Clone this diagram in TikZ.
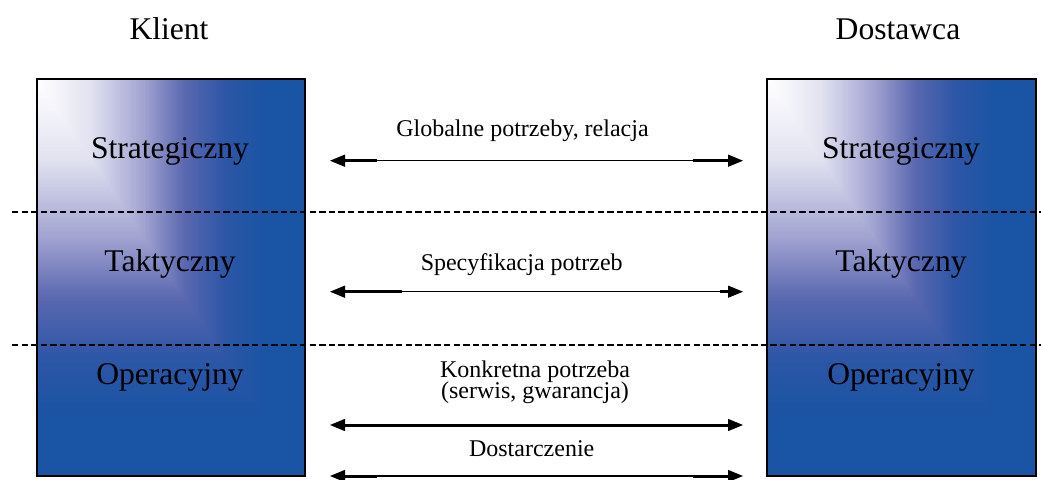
\documentclass[tikz,border=0pt]{standalone}
\usepackage{fontspec}
\setmainfont{Liberation Serif}
\usetikzlibrary{arrows.meta}

\definecolor{jasny}{HTML}{E2E2F1}
\definecolor{lawenda}{HTML}{A0A2D0}
\definecolor{sredni}{HTML}{5A68B0}
\definecolor{ciemny}{HTML}{2D56A6}
\definecolor{granat}{HTML}{1A54A4}

% srodkowe 50bp cieniowania trafia na prostokat
\pgfdeclarehorizontalshading{poziomo}{100bp}{color(0bp)=(white); color(25bp)=(white); color(35bp)=(jasny); color(45bp)=(lawenda); color(52.5bp)=(sredni); color(60bp)=(ciemny); color(67.5bp)=(granat); color(100bp)=(granat)}
\pgfdeclareverticalshading{pionowo}{100bp}{color(0bp)=(granat); color(32.5bp)=(granat); color(40bp)=(ciemny); color(47.5bp)=(sredni); color(55bp)=(lawenda); color(65bp)=(jasny); color(75bp)=(white); color(100bp)=(white)}

\begin{document}
\begin{tikzpicture}[x=0.5pt,y=0.5pt,
  tytul/.style={font=\fontsize{15.8}{19}\selectfont, anchor=base},
  opis/.style={font=\fontsize{12}{14}\selectfont, anchor=base},
  dwustr/.style={{Triangle[length=7.5pt,width=6pt]}-{Triangle[length=7.5pt,width=6pt]}, line width=0.7pt},
  gruba/.style={line width=1.5pt}]
\useasboundingbox (0,0) rectangle (1041,479);

% kolumny
\foreach \bx in {36.5,767}{
\shade[shading=poziomo] (\bx,2.7) rectangle (\bx+268.5,399.7);
\begin{scope}
\clip (\bx,399.7) -- (\bx,2.7) -- (\bx+268.5,2.7) -- cycle;
\shade[shading=pionowo] (\bx,2.7) rectangle (\bx+268.5,399.7);
\end{scope}
\draw[line width=1pt] (\bx,2.7) rectangle (\bx+268.5,399.7);
}

\node[tytul] (klient) at (169,440) {Klient};
\node[tytul] (dostawca) at (898,440) {Dostawca};

\foreach \n/\cx in {k/170,d/901}{
\node[tytul] (\n-strat) at (\cx,321) {Strategiczny};
\node[tytul] (\n-takt) at (\cx,208) {Taktyczny};
\node[tytul] (\n-oper) at (\cx,94.7) {Operacyjny};
}

\foreach \yy in {267,134.5}
\draw[dash pattern=on 3.2pt off 1.6pt, line width=1pt] (12,\yy) -- (1041,\yy);

% strzalki
\foreach \i/\yy in {1/318.3,2/187.3,3/54,4/3}{
\coordinate (l\i) at (330,\yy);
\coordinate (p\i) at (743,\yy);
\draw[dwustr] (l\i) -- (p\i);
}
\foreach \i/\a/\b in {1/47/50,2/72/23,3/207/207,4/47/50}{
\draw[gruba] ([xshift=5pt]l\i) -- ([xshift=\a*0.5pt]l\i);
\draw[gruba] ([xshift=-5pt]p\i) -- ([xshift=-\b*0.5pt]p\i);
}

\node[opis] (globalne) at (522.5,342.3) {Globalne potrzeby, relacja};
\node[opis] (specyf) at (521.7,208.3) {Specyfikacja potrzeb};
\node[opis] (konkretna) at (535,102) {Konkretna potrzeba};
\node[opis] (serwis) at (535,81) {(serwis, gwarancja)};
\node[opis] (dostarcz) at (531.7,23) {Dostarczenie};

\end{tikzpicture}
\end{document}
